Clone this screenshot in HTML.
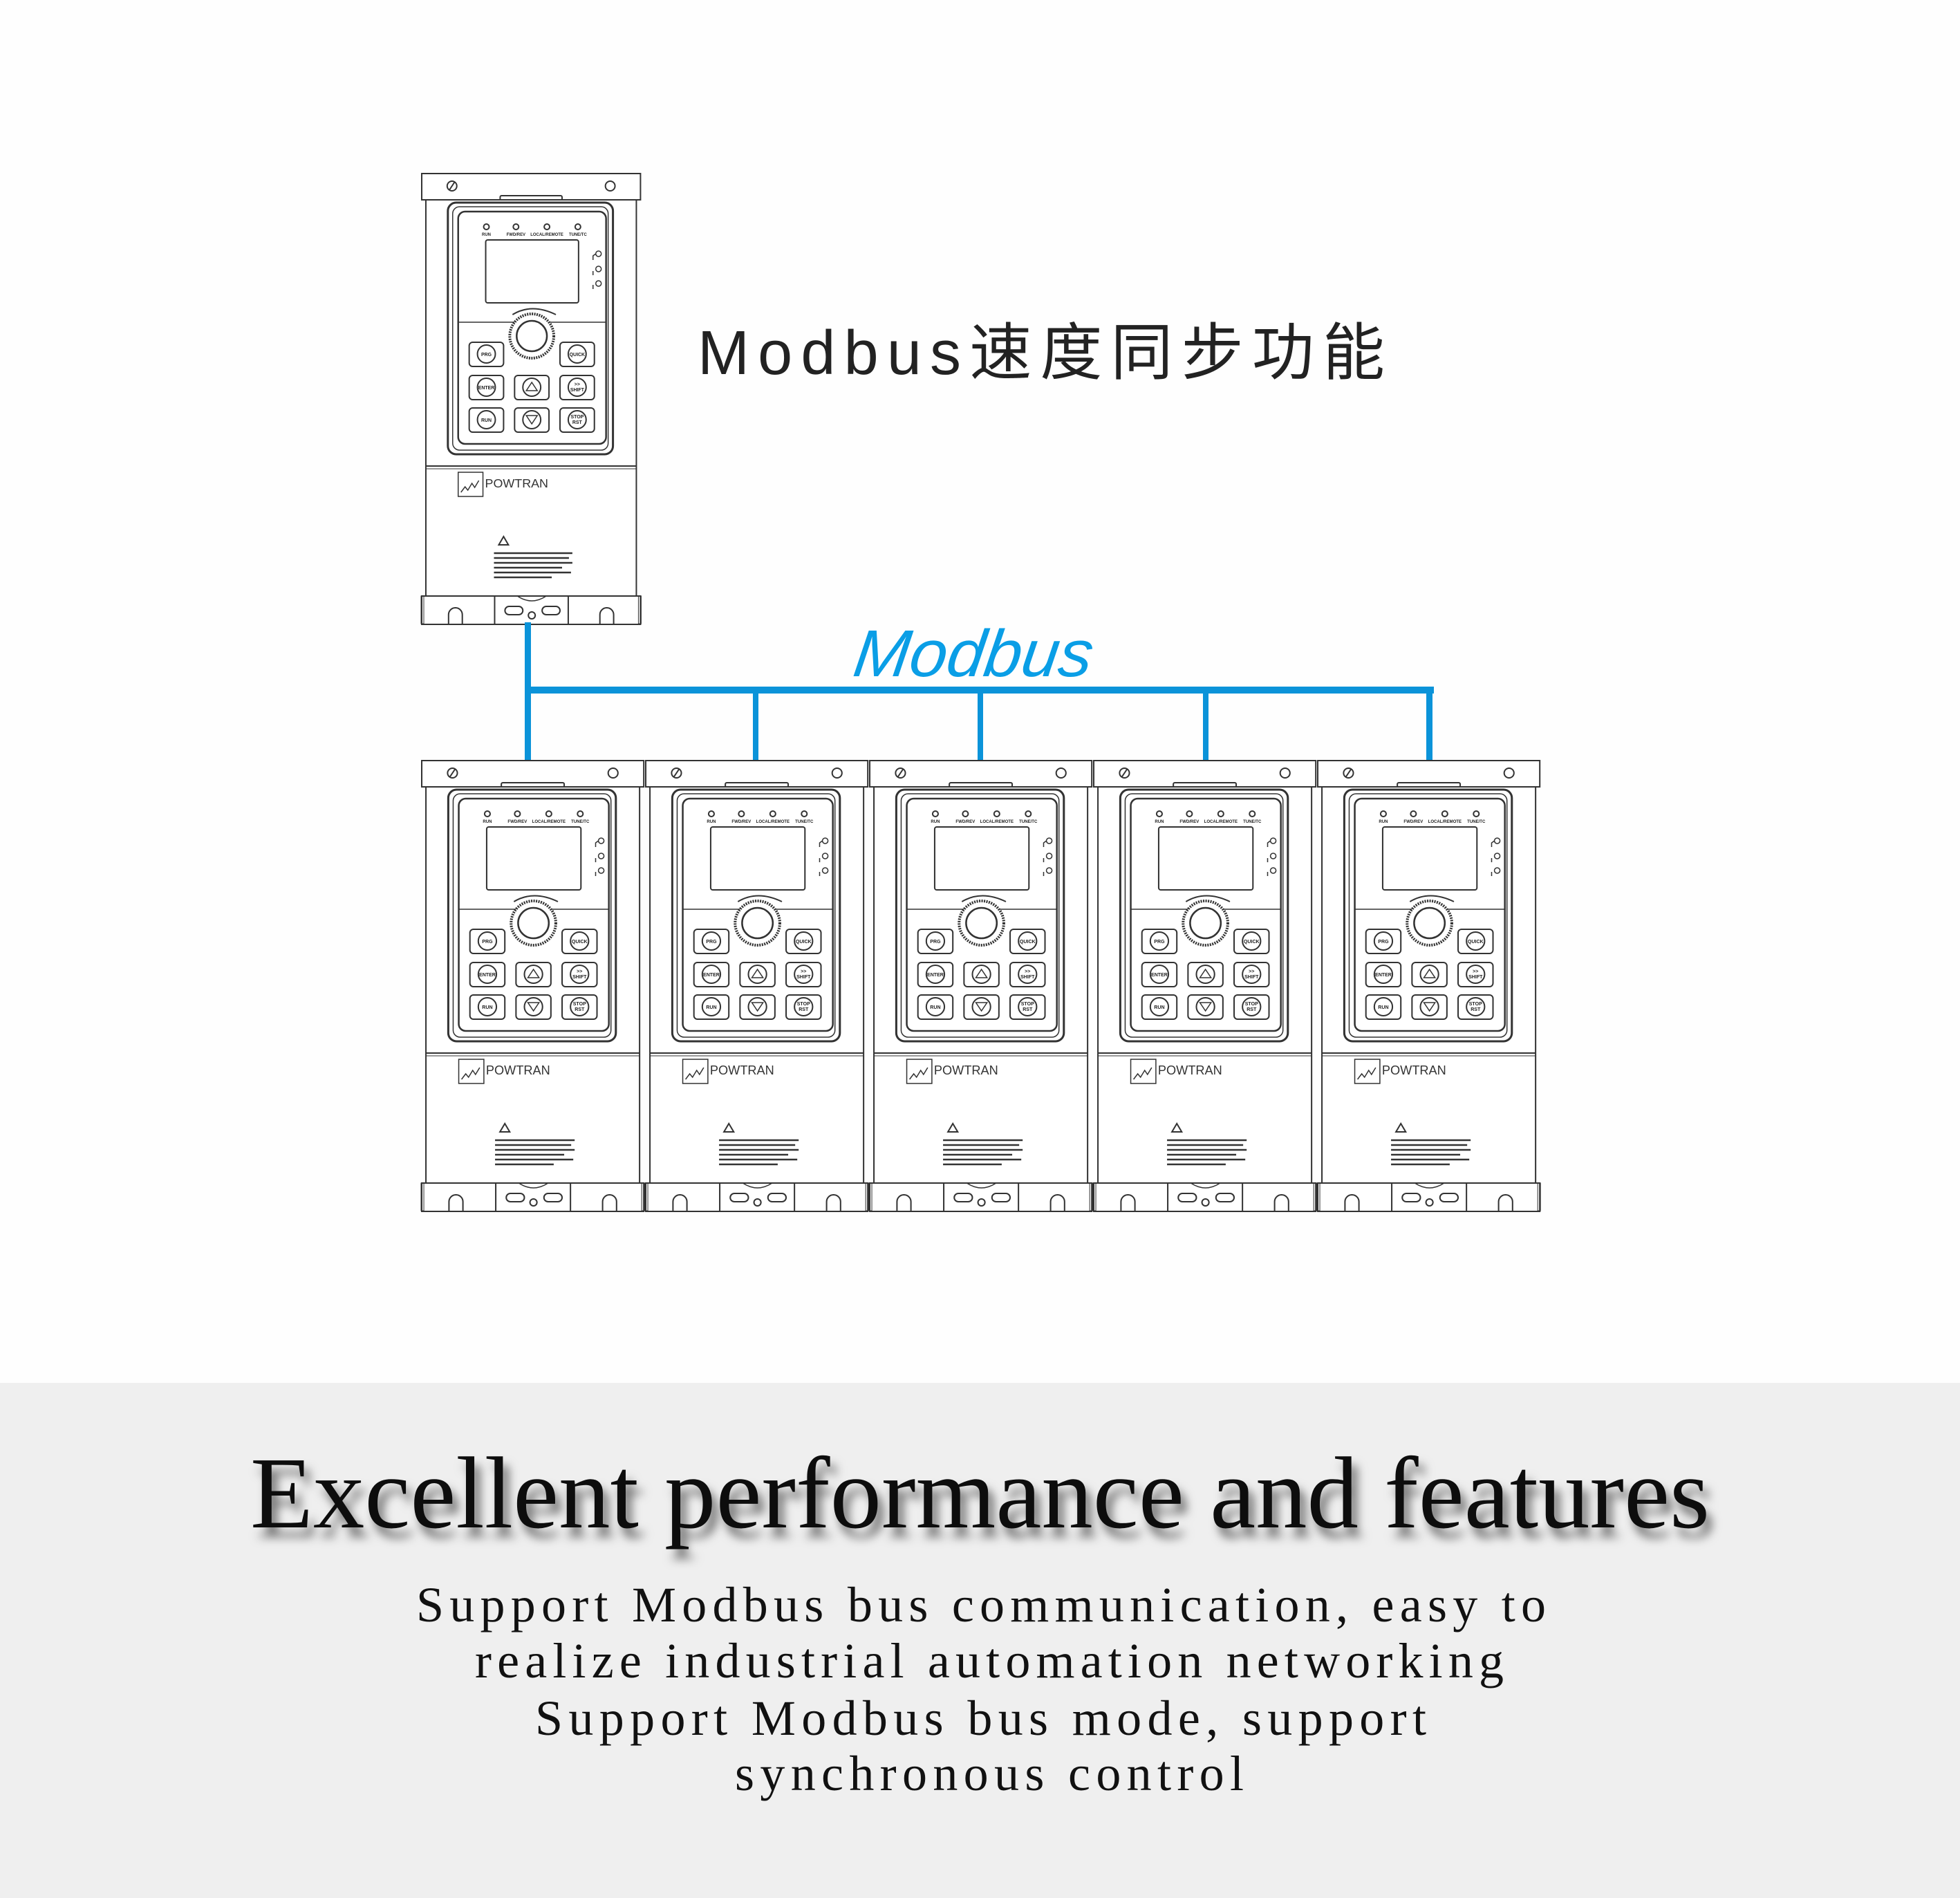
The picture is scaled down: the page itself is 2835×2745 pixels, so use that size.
<!DOCTYPE html>
<html><head><meta charset="utf-8">
<style>
html,body{margin:0;padding:0;}
body{width:2835px;height:2745px;position:relative;background:#fff;overflow:hidden;}
svg{position:absolute;left:0;top:0;}
</style></head>
<body>
<svg width="2835" height="2745" viewBox="0 0 2835 2745" xmlns="http://www.w3.org/2000/svg">
<defs>
<filter id="sh" x="-5%" y="-30%" width="110%" height="180%">
<feDropShadow dx="8" dy="14" stdDeviation="7" flood-color="#000" flood-opacity="0.55"/>
</filter>
<g id="inv" fill="none" stroke="#333" stroke-width="2">
  <rect x="1" y="1" width="318" height="38" fill="#fff"/>
  <circle cx="45" cy="19" r="7"/><line x1="41" y1="25" x2="49" y2="13"/>
  <circle cx="275" cy="19" r="7"/>
  <rect x="115" y="33" width="90" height="10" rx="2" fill="#fff"/>
  <rect x="7" y="39" width="306" height="573" fill="#fff"/>
  <line x1="7" y1="424" x2="313" y2="424"/>
  <line x1="7" y1="428" x2="313" y2="428" stroke-width="1"/>
  <rect x="39" y="43" width="240" height="364" rx="12" fill="#fff" stroke-width="3"/>
  <rect x="46" y="49" width="226" height="352" rx="10" stroke-width="1.5"/>
  <rect x="54" y="56" width="215" height="336" rx="10" stroke-width="2.5"/>
  <circle cx="95" cy="78" r="4"/><circle cx="138" cy="78" r="4"/><circle cx="183" cy="78" r="4"/><circle cx="228" cy="78" r="4"/>
  <g fill="#222" stroke="none" font-family="Liberation Sans,sans-serif" font-size="6" font-weight="bold" text-anchor="middle">
    <text x="95" y="91">RUN</text><text x="138" y="91">FWD/REV</text><text x="183" y="91">LOCAL/REMOTE</text><text x="228" y="91">TUNE/TC</text>
  </g>
  <rect x="94" y="97" width="135" height="91" rx="3"/>
  <g stroke-width="1.5"><circle cx="258" cy="117" r="4"/><circle cx="258" cy="139" r="4"/><circle cx="258" cy="160" r="4"/>
  <path d="M250 126 v-6 l4 -3 M250 148 v-6 M250 168 v-6"/></g>
  <path d="M133 205 Q161 188 196 205" stroke-width="2"/>
  <line x1="54" y1="216" x2="269" y2="216" stroke-width="1.5"/>
  <circle cx="161" cy="236" r="32" stroke-width="4" stroke-dasharray="2 1.5" fill="#fff"/>
  <circle cx="161" cy="236" r="22" stroke-width="2.5"/>
  <g stroke-width="2">
    <rect x="70" y="245" width="50" height="35" rx="5"/><circle cx="95" cy="262" r="13"/>
    <rect x="202" y="245" width="50" height="35" rx="5"/><circle cx="227" cy="262" r="13"/>
    <rect x="70" y="293" width="50" height="35" rx="5"/><circle cx="95" cy="310" r="13"/>
    <rect x="136" y="293" width="50" height="35" rx="5"/><circle cx="161" cy="310" r="13"/>
    <rect x="202" y="293" width="50" height="35" rx="5"/><circle cx="227" cy="310" r="13"/>
    <rect x="70" y="340" width="50" height="35" rx="5"/><circle cx="95" cy="357" r="13"/>
    <rect x="136" y="340" width="50" height="35" rx="5"/><circle cx="161" cy="357" r="13"/>
    <rect x="202" y="340" width="50" height="35" rx="5"/><circle cx="227" cy="357" r="13"/>
    <path d="M153 315 L161 303 L169 315 Z M153 351 L161 363 L169 351 Z" stroke-width="1.5"/>
  </g>
  <g fill="#222" stroke="none" font-family="Liberation Sans,sans-serif" font-size="7" font-weight="bold" text-anchor="middle">
    <text x="95" y="265">PRG</text><text x="227" y="265">QUICK</text><text x="95" y="313">ENTER</text>
    <text x="227" y="308">&gt;&gt;</text><text x="227" y="316">SHIFT</text><text x="95" y="360">RUN</text>
    <text x="227" y="355">STOP</text><text x="227" y="363">RST</text>
  </g>
  <rect x="54" y="433" width="36" height="35" stroke-width="1.5"/>
  <path d="M58 462 l6 -8 l4 5 l6 -10 l4 6 l6 -10" stroke-width="1.5"/>
  <text x="93" y="455" fill="#333" stroke="none" font-family="Liberation Sans,sans-serif" font-size="18">POWTRAN</text>
  <path d="M113 538 L120 526 L127 538 Z" stroke-width="2"/>
  <g stroke="#333" stroke-width="2.5">
    <line x1="106" y1="550" x2="220" y2="550"/><line x1="106" y1="557" x2="215" y2="557"/>
    <line x1="106" y1="564" x2="220" y2="564"/><line x1="106" y1="571" x2="205" y2="571"/>
    <line x1="106" y1="578" x2="218" y2="578"/><line x1="106" y1="585" x2="190" y2="585"/>
  </g>
  <rect x="1" y="612" width="318" height="41" fill="#fff"/>
  <line x1="107" y1="612" x2="107" y2="653"/><line x1="214" y1="612" x2="214" y2="653"/>
  <path d="M40 653 v-14 a10 10 0 0 1 20 0 v14 M260 653 v-14 a10 10 0 0 1 20 0 v14"/>
  <rect x="122" y="627" width="26" height="12" rx="6"/><rect x="176" y="627" width="26" height="12" rx="6"/>
  <circle cx="161" cy="640" r="5"/>
  <path d="M140 612 q21 14 42 0" stroke-width="1.5"/>
  <rect x="0" y="612" width="4" height="40" stroke-width="1"/><rect x="316" y="612" width="4" height="40" stroke-width="1"/>
</g>
</defs>

<rect x="0" y="0" width="2835" height="2000" fill="#fefefe"/>
<rect x="0" y="2000" width="2835" height="745" fill="#efefef"/>

<use href="#inv" transform="translate(609,250) scale(0.995,1)"/>

<g fill="#0b93d9">
  <rect x="759" y="900" width="9" height="202"/>
  <rect x="759" y="993" width="1315" height="10"/>
  <rect x="1089" y="998" width="8" height="104"/>
  <rect x="1414" y="998" width="8" height="104"/>
  <rect x="1740" y="998" width="8" height="104"/>
  <rect x="2063" y="998" width="9" height="104"/>
</g>
<text x="1232" y="978" font-family="Liberation Sans,sans-serif" font-style="italic" font-size="96" fill="#0a9ee6" textLength="345" lengthAdjust="spacingAndGlyphs" transform="skewX(-8) translate(137,0)">Modbus</text>

<use href="#inv" transform="translate(609,1099) scale(1.01,1)"/>
<use href="#inv" transform="translate(933,1099) scale(1.01,1)"/>
<use href="#inv" transform="translate(1257,1099) scale(1.01,1)"/>
<use href="#inv" transform="translate(1581,1099) scale(1.01,1)"/>
<use href="#inv" transform="translate(1905,1099) scale(1.01,1)"/>

<text x="1009" y="541" font-family="Liberation Sans,'Noto Sans CJK SC',sans-serif" font-size="90" fill="#222" textLength="994" lengthAdjust="spacing">Modbus速度同步功能</text>

<text x="362" y="2209" font-family="Liberation Serif,serif" font-size="148" fill="#111" filter="url(#sh)" textLength="2111" lengthAdjust="spacingAndGlyphs">Excellent performance and features</text>

<g font-family="Liberation Serif,serif" font-size="72" fill="#111" lengthAdjust="spacingAndGlyphs">
<text x="602" y="2345" textLength="1634">Support Modbus bus communication, easy to</text>
<text x="687" y="2426" textLength="1488">realize industrial automation networking</text>
<text x="774" y="2509" textLength="1289">Support Modbus bus mode, support</text>
<text x="1063" y="2589" textLength="736">synchronous control</text>
</g>
</svg>
</body></html>
